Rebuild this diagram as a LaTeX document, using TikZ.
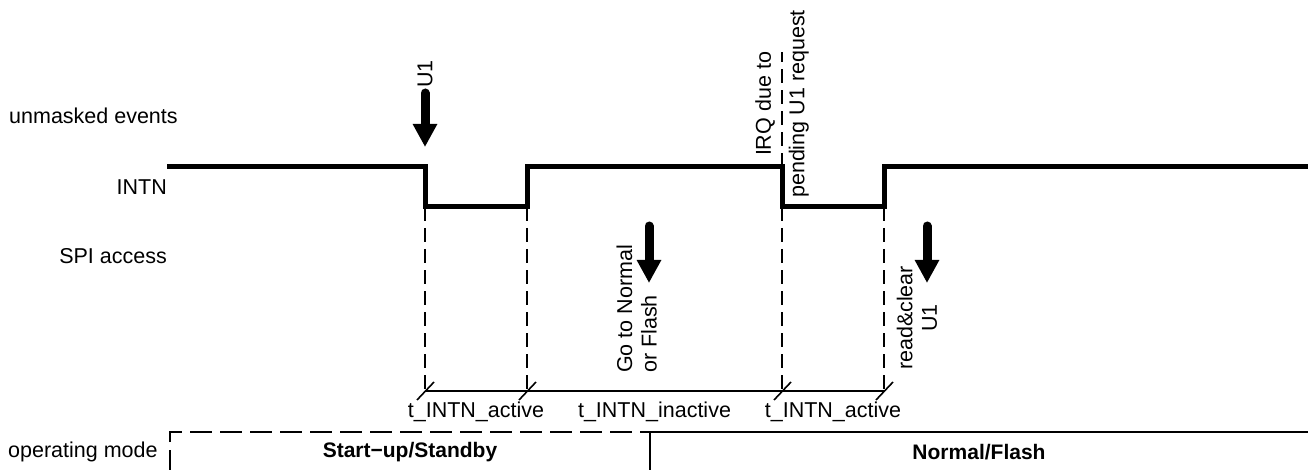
\documentclass[tikz,border=0pt]{standalone}
\usepackage{fontspec}
\setmainfont{Liberation Sans}
\usetikzlibrary{arrows.meta}
\begin{document}
\begin{tikzpicture}[x=1pt,y=-1pt,
  lbl/.style={inner sep=0pt,font=\fontsize{21.5}{24.5}\selectfont},
  bold/.style={inner sep=0pt,font=\fontsize{21}{24}\selectfont\bfseries},
  sig/.style={line width=5pt,line join=miter},
  guide/.style={line width=1.2pt,dash pattern=on 14pt off 7pt},
  dimline/.style={line width=1.4pt},
  tick/.style={line width=1.6pt},
  evarrow/.style={line width=9pt,line cap=round,-{Triangle[width=23pt,length=23pt]}},
  modebox/.style={line width=1.5pt}
]
\useasboundingbox (0,0) rectangle (1308,470);

% row labels
\node[lbl,anchor=west] (lev) at (9,116) {unmasked events};
\node[lbl,anchor=east] (lintn) at (167,187) {INTN};
\node[lbl,anchor=east] (lspi) at (167,256) {SPI access};
\node[lbl,anchor=west] (lmode) at (8,452) {operating mode};

% INTN signal
\coordinate (s) at (167,167);
\coordinate (f1h) at (425,167);
\coordinate (f1l) at (425,207);
\coordinate (r1l) at (527,207);
\coordinate (r1h) at (527,167);
\coordinate (f2h) at (782,167);
\coordinate (f2l) at (782,207);
\coordinate (r2l) at (884,207);
\coordinate (r2h) at (884,167);
\coordinate (e) at (1310,167);
\draw[sig] (s) -- (f1h) -- (f1l) -- (r1l) -- (r1h) -- (f2h) -- (f2l) -- (r2l) -- (r2h) -- (e);

% dimension line
\coordinate (d1) at (425,391);
\coordinate (d2) at (527,391);
\coordinate (d3) at (782,391);
\coordinate (d4) at (884,391);
\coordinate (irqtop) at (782,52);
\draw[guide] (f1l) -- (d1);
\draw[guide] (r1l) -- (d2);
\draw[guide] (f2l) -- (d3);
\draw[guide] (r2l) -- (d4);
\draw[guide] (f2h) -- (irqtop);
\draw[dimline] (d1) -- (d4);
\foreach \d in {d1,d2,d3,d4}
  \draw[tick] (\d) ++(-8,9) -- ++(17,-18);

\node[lbl] (ta1) at (476,412) {t\_INTN\_active};
\node[lbl] (ti) at (654.5,412) {t\_INTN\_inactive};
\node[lbl] (ta2) at (833,412) {t\_INTN\_active};

% event arrows and labels
\coordinate (a1s) at (425,93);
\coordinate (a1e) at (425,147);
\draw[evarrow] (a1s) -- (a1e);
\node[lbl,rotate=90] (tu1) at (425,74) {U1};

\node[lbl,rotate=90,align=center] (tirq) at (782,104) {IRQ due to\\[9pt]pending U1 request};

\coordinate (a2s) at (649,226);
\coordinate (a2e) at (649,283);
\draw[evarrow] (a2s) -- (a2e);
\node[lbl,rotate=90,align=left,anchor=south west] (tgo) at (657,373) {Go to Normal\\or Flash};

\coordinate (a3s) at (927,226);
\coordinate (a3e) at (927,283);
\draw[evarrow] (a3s) -- (a3e);
\node[lbl,rotate=90,align=center] (trc) at (917,318) {read\&clear\\U1};

% operating mode boxes
\coordinate (b1) at (170,472);
\coordinate (b2) at (170,432);
\coordinate (b3) at (650,432);
\coordinate (b4) at (650,472);
\coordinate (b5) at (1310,432);
\draw[modebox,dash pattern=on 22pt off 8pt] (b1) -- (b2) -- (b3);
\draw[modebox] (b4) -- (b3) -- (b5);
\node[bold] (mstart) at (410,452) {Start−up/Standby};
\node[bold] (mnorm) at (979,452) {Normal/Flash};
\end{tikzpicture}
\end{document}
